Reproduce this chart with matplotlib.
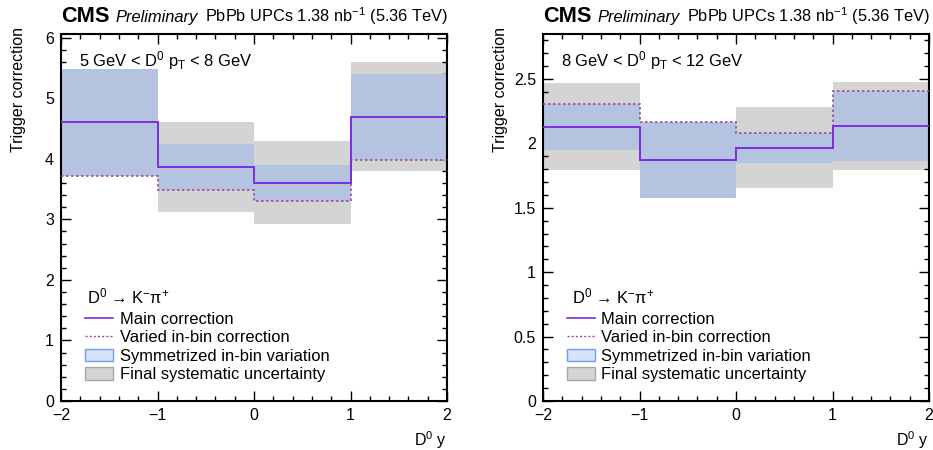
import numpy as np
import matplotlib
matplotlib.use("Agg")
import matplotlib.pyplot as plt
from matplotlib.lines import Line2D
from matplotlib.patches import Patch
from matplotlib.ticker import MultipleLocator, FuncFormatter

plt.rcParams['font.family'] = ['Liberation Sans', 'DejaVu Sans']
plt.rcParams['mathtext.fontset'] = 'custom'
plt.rcParams['mathtext.rm'] = 'Liberation Sans'
plt.rcParams['mathtext.it'] = 'Liberation Sans:italic'
plt.rcParams['mathtext.bf'] = 'Liberation Sans:bold'

# ---- data ----
y_edges = [-2, -1, 0, 1, 2]

main_low = [4.60, 3.86, 3.60, 4.69]
varied_low = [3.72, 3.48, 3.31, 3.98]
syst_low = [0.87, 0.74, 0.685, 0.90]

main_high = [2.13, 1.875, 1.966, 2.135]
varied_high = [2.31, 2.17, 2.08, 2.41]
syst_high = [0.34, 0.295, 0.315, 0.34]

pt_labels = [r'5 GeV < D$^{\mathrm{0}}$ p$_{\mathrm{T}}$ < 8 GeV',
             r'8 GeV < D$^{\mathrm{0}}$ p$_{\mathrm{T}}$ < 12 GeV']
ylims = [6.06, 2.85]
ymajor = [1.0, 0.5]
yminor = [0.2, 0.1]

C_MAIN = '#7d2be0'
C_VAR = '#a04a9c'
C_BLUE = '#b4c3df'
C_GREY = '#d4d4d4'

fig = plt.figure(figsize=(9.33, 4.5), dpi=100)
W, H = 933, 450
axes_px = [(61, 34, 386, 367), (543, 34, 386, 367)]
hdr_x = [0.067, 0.075]
leg_x = [0.063, 0.061]

datasets = [(main_low, varied_low, syst_low), (main_high, varied_high, syst_high)]

def fmt(v, pos):
    s = '%g' % v
    return s.replace('-', '\u2212')

for i, (ax_px, (main, varied, syst)) in enumerate(zip(axes_px, datasets)):
    x0, top, w, h = ax_px
    ax = fig.add_axes([x0 / W, 1 - (top + h) / H, w / W, h / H])
    edges = np.array(y_edges, dtype=float)
    centers = 0.5 * (edges[:-1] + edges[1:])
    widths = np.diff(edges)
    main = np.array(main); varied = np.array(varied); syst = np.array(syst)
    sym = np.abs(varied - main)

    ax.bar(centers, 2 * syst, bottom=main - syst, width=widths, color=C_GREY, linewidth=0, zorder=1)
    ax.bar(centers, 2 * sym, bottom=main - sym, width=widths, color=C_BLUE, linewidth=0, zorder=2)
    ax.stairs(varied, edges, color=C_VAR, linestyle=(0, (1.5, 1.5)), linewidth=1.2, zorder=3, baseline=None)
    ax.stairs(main, edges, color=C_MAIN, linewidth=1.4, zorder=4, baseline=None)

    ax.set_xlim(-2, 2)
    ax.set_ylim(0, ylims[i])
    ax.xaxis.set_major_locator(MultipleLocator(1))
    ax.xaxis.set_minor_locator(MultipleLocator(0.2))
    ax.yaxis.set_major_locator(MultipleLocator(ymajor[i]))
    ax.yaxis.set_minor_locator(MultipleLocator(yminor[i]))
    ax.xaxis.set_major_formatter(FuncFormatter(fmt))
    ax.yaxis.set_major_formatter(FuncFormatter(fmt))
    ax.tick_params(which='both', direction='in', top=True, right=True, labelsize=11.5, width=1)
    ax.tick_params(which='major', length=7)
    ax.tick_params(which='minor', length=3.6)
    ax.tick_params(axis='x', pad=5)
    ax.tick_params(axis='y', pad=5)
    for s in ax.spines.values():
        s.set_linewidth(1.5)

    # axis labels
    fig.text((x0 - 42) / W, 1 - 27 / H, 'Trigger correction', rotation=90, fontsize=11.5,
             ha='center', va='top')
    ax.text(1.0, -(440 - 401) / h, r'D$^{\mathrm{0}}$ y', transform=ax.transAxes,
            fontsize=11.5, ha='right', va='center')

    # header
    ax.text(0.0, 1.033, 'CMS', transform=ax.transAxes, fontsize=15.7, fontweight='bold',
            ha='left', va='baseline')
    ax.text(0.14, 1.033, 'Preliminary', transform=ax.transAxes, fontsize=11.9, fontstyle='italic',
            ha='left', va='baseline')
    ax.text(1.003, 1.033, r'PbPb UPCs 1.38 nb$^{\mathrm{-1}}$ (5.36 TeV)', transform=ax.transAxes,
            fontsize=11.8, ha='right', va='baseline')

    ax.text(0.046, 0.913, pt_labels[i], transform=ax.transAxes, fontsize=11.9,
            ha='left', va='baseline')

    ax.text(hdr_x[i], 0.266, r'D$^{\mathrm{0}}$ → K$^{\mathrm{-}}$π$^{\mathrm{+}}$',
            transform=ax.transAxes, fontsize=11.9, ha='left', va='baseline')

    handles = [Line2D([], [], color=C_MAIN, linewidth=1.2),
               Line2D([], [], color=C_VAR, linestyle=(0, (1.5, 1.5)), linewidth=1.0),
               Patch(facecolor='#d6e4fa', edgecolor='#6f9fe8', linewidth=1.0),
               Patch(facecolor='#d4d4d4', edgecolor='#a8a8a8', linewidth=1.0)]
    labels = ['Main correction', 'Varied in-bin correction',
              'Symmetrized in-bin variation', 'Final systematic uncertainty']
    ax.legend(handles, labels, loc='upper left', bbox_to_anchor=(leg_x[i], 0.243), frameon=False,
              fontsize=11.9, handlelength=1.7, handleheight=0.8, handletextpad=0.4,
              labelspacing=0.2, borderpad=0, borderaxespad=0)

fig.savefig('out.png', dpi=100)
